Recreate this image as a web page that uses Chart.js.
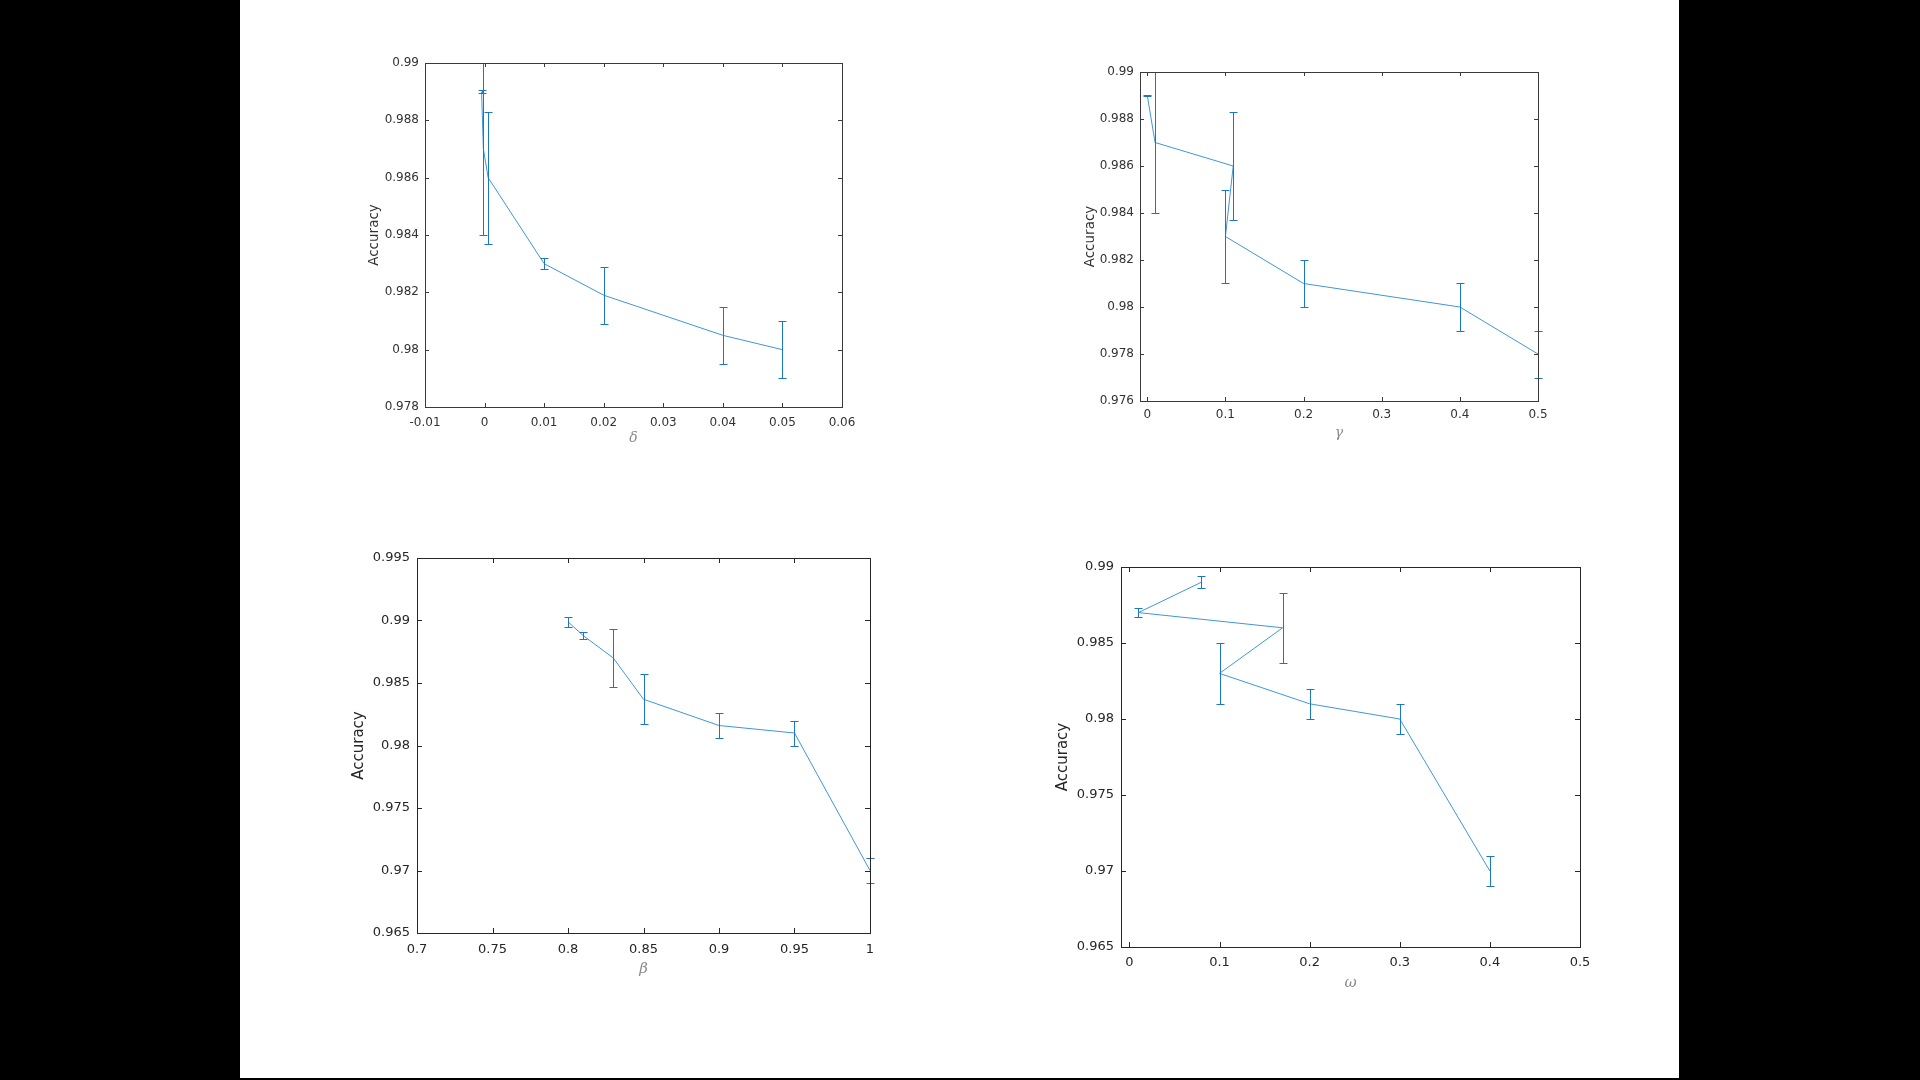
<!DOCTYPE html>
<html>
<head>
<meta charset="utf-8">
<script src="https://cdn.jsdelivr.net/npm/chart.js@4.4.1/dist/chart.umd.min.js"></script>
<style>
  html, body { margin: 0; padding: 0; background: #000; }
  body { width: 1920px; height: 1080px; position: relative; overflow: hidden; }
  #page { position: absolute; left: 240px; top: 0; width: 1439px; height: 1078px; background: #fff; }
  canvas { position: absolute; }
</style>
</head>
<body>
<div id="page"></div>
<canvas id="cDelta"></canvas>
<canvas id="cGamma"></canvas>
<canvas id="cBeta"></canvas>
<canvas id="cOmega"></canvas>
<script>
// delta panel (top left)
const deltaX = [-0.0005, -0.0002, 0.0006, 0.01, 0.02, 0.04, 0.05]
const deltaAcc = [0.989, 0.987, 0.986, 0.983, 0.9819, 0.9805, 0.98]
const deltaErr = [0.00005, 0.003, 0.0023, 0.0002, 0.001, 0.001, 0.001]
const deltaXTicks = [-0.01, 0, 0.01, 0.02, 0.03, 0.04, 0.05, 0.06]
const deltaYTicks = [0.978, 0.98, 0.982, 0.984, 0.986, 0.988, 0.99]

// gamma panel (top right)
const gammaX = [0, 0.01, 0.11, 0.1, 0.2, 0.4, 0.5]
const gammaAcc = [0.989, 0.987, 0.986, 0.983, 0.981, 0.98, 0.978]
const gammaErr = [0.00004, 0.003, 0.0023, 0.002, 0.001, 0.001, 0.001]
const gammaXTicks = [0, 0.1, 0.2, 0.3, 0.4, 0.5]
const gammaYTicks = [0.976, 0.978, 0.98, 0.982, 0.984, 0.986, 0.988, 0.99]

// beta panel (bottom left)
const betaX = [0.8, 0.81, 0.83, 0.85, 0.9, 0.95, 1]
const betaAcc = [0.9899, 0.9888, 0.987, 0.9837, 0.9816, 0.981, 0.97]
const betaErr = [0.0004, 0.0003, 0.0023, 0.002, 0.001, 0.001, 0.001]
const betaXTicks = [0.7, 0.75, 0.8, 0.85, 0.9, 0.95, 1]
const betaYTicks = [0.965, 0.97, 0.975, 0.98, 0.985, 0.99, 0.995]

// omega panel (bottom right)
const omegaX = [0.08, 0.01, 0.17, 0.1, 0.2, 0.3, 0.4]
const omegaAcc = [0.989, 0.987, 0.986, 0.983, 0.981, 0.98, 0.97]
const omegaErr = [0.0004, 0.0003, 0.0023, 0.002, 0.001, 0.001, 0.001]
const omegaXTicks = [0, 0.1, 0.2, 0.3, 0.4, 0.5]
const omegaYTicks = [0.965, 0.97, 0.975, 0.98, 0.985, 0.99]

const LINE_COLOR = "#3f97d6"
const BAR_COLOR = "#1a78c2"
const YW = 75   // room left of the axes box
const XH = 55   // room under the axes box
const PAD_T = 15
const PAD_R = 25

const errorBarPlugin = {
  id: "errorBars",
  afterDatasetsDraw(chart, args, opts) {
    const ctx = chart.ctx
    const xs = chart.scales.x
    const ys = chart.scales.y
    const pts = chart.data.datasets[0].data
    ctx.save()
    ctx.strokeStyle = opts.color
    ctx.lineWidth = 1
    ctx.beginPath()
    pts.forEach((p, i) => {
      const e = opts.errors[i]
      const px = Math.round(xs.getPixelForValue(p.x)) + 0.5
      const top = Math.round(ys.getPixelForValue(p.y + e)) + 0.5
      const bot = Math.round(ys.getPixelForValue(p.y - e)) + 0.5
      ctx.moveTo(px, top)
      ctx.lineTo(px, bot)
      ctx.moveTo(px - opts.cap, top)
      ctx.lineTo(px + opts.cap, top)
      ctx.moveTo(px - opts.cap, bot)
      ctx.lineTo(px + opts.cap, bot)
    })
    ctx.stroke()
    ctx.restore()
  }
}

// matlab style box with inward ticks on all four sides
const boxPlugin = {
  id: "matlabBox",
  afterDraw(chart, args, opts) {
    const ctx = chart.ctx
    const a = chart.chartArea
    const len = opts.tickLength
    ctx.save()
    ctx.strokeStyle = opts.color
    ctx.lineWidth = 1
    ctx.beginPath()
    chart.scales.x.ticks.forEach(t => {
      const px = Math.round(chart.scales.x.getPixelForValue(t.value)) + 0.5
      ctx.moveTo(px, a.bottom)
      ctx.lineTo(px, a.bottom - len)
      ctx.moveTo(px, a.top)
      ctx.lineTo(px, a.top + len)
    })
    chart.scales.y.ticks.forEach(t => {
      const py = Math.round(chart.scales.y.getPixelForValue(t.value)) + 0.5
      ctx.moveTo(a.left, py)
      ctx.lineTo(a.left + len, py)
      ctx.moveTo(a.right, py)
      ctx.lineTo(a.right - len, py)
    })
    ctx.stroke()
    ctx.strokeRect(a.left + 0.5, a.top + 0.5, a.right - a.left, a.bottom - a.top)
    ctx.restore()
  }
}

function makePlot(id, frame, xs, acc, err, xRange, xTicks, yRange, yTicks, xLabel, look) {
  const canvas = document.getElementById(id)
  const w = frame.r - frame.l
  const h = frame.b - frame.t
  canvas.width = w + YW + PAD_R
  canvas.height = h + PAD_T + XH
  canvas.style.left = (frame.l - YW) + "px"
  canvas.style.top = (frame.t - PAD_T) + "px"

  const yTitleLh = look.title * 1.2
  const xTitleLh = look.xTitle * 1.2

  return new Chart(canvas.getContext("2d"), {
    type: "line",
    data: {
      datasets: [{
        data: xs.map((x, i) => ({ x: x, y: acc[i] })),
        borderColor: LINE_COLOR,
        borderWidth: 1,
        pointRadius: 0,
        tension: 0,
        fill: false
      }]
    },
    options: {
      responsive: false,
      animation: false,
      events: [],
      layout: { padding: { top: PAD_T, right: PAD_R, left: 0, bottom: 0 } },
      scales: {
        x: {
          type: "linear",
          min: xRange[0],
          max: xRange[1],
          afterBuildTicks: s => { s.ticks = xTicks.map(v => ({ value: v })) },
          afterFit: s => { s.height = XH },
          grid: { display: false, drawTicks: false },
          border: { display: false },
          ticks: {
            padding: look.xPad,
            color: look.text,
            font: { family: "DejaVu Sans", size: look.tick },
            maxRotation: 0,
            autoSkip: false,
            callback: v => String(v)
          },
          title: {
            display: true,
            text: xLabel,
            color: "#8a8a8a",
            font: { family: "DejaVu Serif", size: look.xTitle, style: "italic" },
            padding: { top: 0, bottom: XH - look.xTitleOff - xTitleLh / 2 }
          }
        },
        y: {
          type: "linear",
          min: yRange[0],
          max: yRange[1],
          afterBuildTicks: s => { s.ticks = yTicks.map(v => ({ value: v })) },
          afterFit: s => { s.width = YW },
          grid: { display: false, drawTicks: false },
          border: { display: false },
          ticks: {
            padding: look.yPad,
            color: look.text,
            font: { family: "DejaVu Sans", size: look.tick },
            autoSkip: false,
            callback: v => String(v)
          },
          title: {
            display: true,
            text: "Accuracy",
            color: look.text,
            font: { family: "DejaVu Sans", size: look.title },
            padding: { top: YW - look.yTitleOff - yTitleLh / 2, bottom: 0 }
          }
        }
      },
      plugins: {
        legend: { display: false },
        tooltip: { enabled: false },
        errorBars: { errors: err, color: BAR_COLOR, cap: 4 },
        matlabBox: { color: look.frame, tickLength: Math.round(0.01 * Math.max(w, h)) }
      }
    },
    plugins: [errorBarPlugin, boxPlugin]
  })
}

const smallLook = { tick: 12, title: 13.5, xTitle: 14, text: "#333", frame: "#3a3a3a", xPad: 6, yPad: 6, yTitleOff: 51, xTitleOff: 31 }
const bigLook = { tick: 13, title: 15, xTitle: 15, text: "#262626", frame: "#262626", xPad: 7, yPad: 7, yTitleOff: 58, xTitleOff: 36 }

makePlot("cDelta", { l: 425, t: 63, r: 842, b: 407 }, deltaX, deltaAcc, deltaErr,
  [-0.01, 0.06], deltaXTicks, [0.978, 0.99], deltaYTicks, "δ", Object.assign({}, smallLook, { xPad: 9 }))
makePlot("cGamma", { l: 1140, t: 72, r: 1538, b: 401 }, gammaX, gammaAcc, gammaErr,
  [-0.0093, 0.5], gammaXTicks, [0.976, 0.99], gammaYTicks, "γ", Object.assign({}, smallLook, { xPad: 7, yTitleOff: 50, xTitleOff: 32 }))
makePlot("cBeta", { l: 417, t: 558, r: 870, b: 933 }, betaX, betaAcc, betaErr,
  [0.7, 1], betaXTicks, [0.965, 0.995], betaYTicks, "β", Object.assign({}, bigLook, { xPad: 9 }))
makePlot("cOmega", { l: 1121, t: 567, r: 1580, b: 947 }, omegaX, omegaAcc, omegaErr,
  [-0.0093, 0.5], omegaXTicks, [0.965, 0.99], omegaYTicks, "ω", Object.assign({}, bigLook, { xPad: 8 }))
</script>
</body>
</html>
